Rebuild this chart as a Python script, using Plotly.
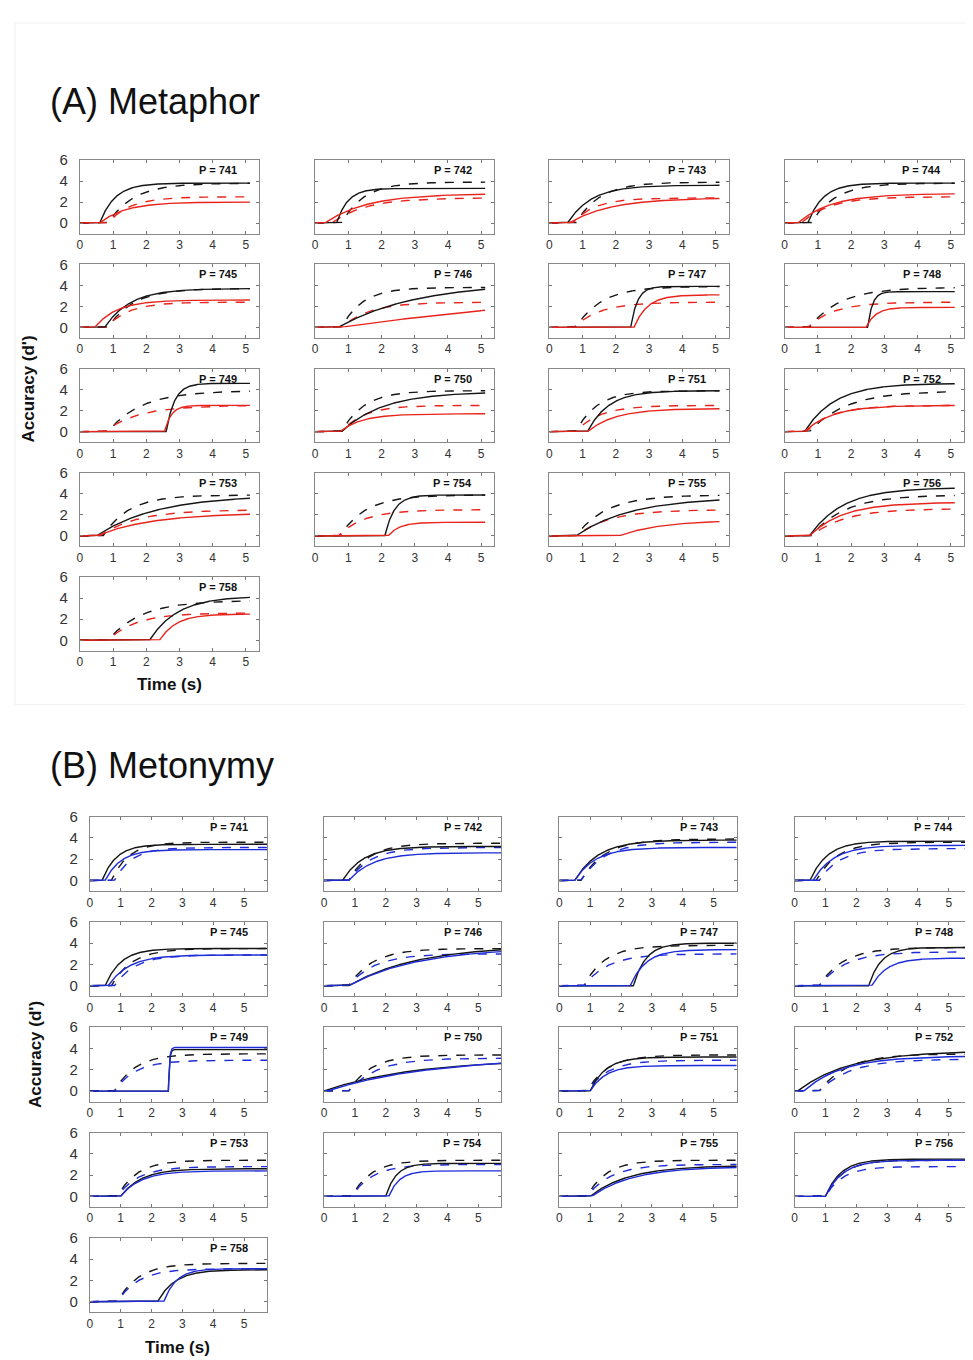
import numpy as np
import plotly.graph_objects as go

# ---------------- data (fitted SAT parameters) ----------------
participants = [741, 742, 743, 744, 745, 746, 747, 748, 749, 750, 751, 752, 753, 754, 755, 756, 758]
x_ticks = [0, 1, 2, 3, 4, 5]
y_ticks = [0, 2, 4, 6]

# Panel A - Metaphor : asymptote (d'), rate (1/s), intercept (s)
A_lit_asym = [3.8, 3.3, 3.6, 3.8, 3.7, 4.3, 3.9, 3.4, 4.6, 3.8, 3.9, 4.6, 3.9, 3.9, 3.7, 4.6, 4.2]
A_lit_rate = [2.2, 3.0, 1.4, 2.2, 1.3, 0.42, 5.0, 7.0, 4.0, 0.8, 1.6, 1.1, 0.55, 3.5, 0.6, 1.0, 1.2]
A_lit_int = [0.6, 0.65, 0.55, 0.7, 0.75, 0.7, 2.45, 2.5, 2.6, 0.8, 1.15, 0.6, 0.5, 2.1, 0.8, 0.75, 2.1]

A_litd_asym = [3.8, 3.9, 3.9, 3.8, 3.7, 3.8, 3.9, 3.8, 3.9, 3.9, 3.9, 3.9, 3.9, 3.9, 3.9, 3.9, 3.8]
A_litd_rate = [1.3, 1.5, 1.4, 1.4, 1.3, 1.6, 1.3, 1.1, 1.0, 1.5, 1.6, 0.9, 1.3, 1.3, 1.1, 1.0, 1.0]
A_litd_int = [0.85, 0.8, 0.8, 0.8, 0.85, 0.8, 0.8, 0.75, 0.85, 0.8, 0.8, 0.75, 0.7, 0.75, 0.8, 0.8, 0.85]

A_fig_asym = [2.0, 2.8, 2.4, 2.8, 2.6, 5.0, 3.1, 1.9, 2.5, 1.7, 2.2, 2.5, 2.2, 1.3, 1.5, 3.2, 2.5]
A_fig_rate = [1.3, 0.8, 0.8, 1.0, 1.5, 0.09, 2.5, 3.5, 5.0, 1.5, 1.2, 1.2, 0.6, 3.0, 0.8, 1.0, 2.0]
A_fig_int = [0.6, 0.3, 0.6, 0.4, 0.45, 0.75, 2.55, 2.45, 2.55, 0.75, 1.15, 0.6, 0.5, 2.2, 2.1, 0.75, 2.4]

A_figd_asym = [2.5, 2.4, 2.4, 2.5, 2.4, 2.4, 2.4, 2.4, 2.5, 2.5, 2.5, 2.5, 2.5, 2.5, 2.5, 2.6, 2.6]
A_figd_rate = [1.5, 1.0, 1.5, 1.2, 1.5, 1.2, 1.3, 1.3, 1.0, 1.5, 1.4, 1.3, 0.9, 1.3, 1.0, 1.0, 1.2]
A_figd_int = [0.85, 0.5, 0.7, 0.5, 0.8, 0.8, 0.75, 0.7, 0.75, 0.8, 0.8, 0.65, 0.6, 0.7, 0.8, 0.8, 0.85]

# Panel B - Metonymy
B_lit_asym = [3.4, 3.2, 3.8, 3.7, 3.5, 3.8, 4.0, 3.6, 3.9, 3.0, 3.2, 3.8, 2.6, 3.1, 2.9, 3.5, 3.0]
B_lit_rate = [2.2, 1.5, 1.3, 1.8, 2.0, 0.45, 2.5, 2.5, 30.0, 0.35, 2.0, 0.6, 1.5, 3.0, 0.8, 2.0, 1.8]
B_lit_int = [0.4, 0.6, 0.5, 0.5, 0.5, 0.8, 2.4, 2.4, 2.55, 0.0, 1.0, 0.1, 1.0, 2.0, 1.0, 1.0, 2.2]

B_litd_asym = [3.6, 3.5, 3.9, 3.6, 3.5, 3.5, 3.8, 3.6, 3.5, 3.4, 3.4, 3.5, 3.4, 3.4, 3.4, 3.4, 3.6]
B_litd_rate = [1.8, 1.5, 1.3, 1.5, 1.5, 1.3, 1.5, 1.3, 1.5, 1.4, 1.5, 1.1, 1.6, 1.6, 1.6, 1.8, 1.5]
B_litd_int = [0.7, 0.8, 0.7, 0.7, 0.7, 0.8, 0.8, 0.8, 0.8, 0.8, 0.9, 0.8, 0.9, 0.9, 0.9, 1.0, 0.9]

B_fig_asym = [2.9, 2.6, 3.1, 3.3, 2.9, 3.6, 3.4, 2.6, 4.1, 3.2, 2.4, 3.3, 2.4, 2.4, 2.8, 3.4, 3.1]
B_fig_rate = [2.0, 1.3, 1.5, 1.5, 1.5, 0.45, 2.0, 2.0, 30.0, 0.3, 2.0, 0.8, 1.5, 3.0, 0.75, 1.8, 2.5]
B_fig_int = [0.5, 0.8, 0.5, 0.6, 0.6, 0.8, 2.3, 2.5, 2.55, 0.1, 1.0, 0.3, 1.0, 2.1, 1.05, 1.0, 2.4]

B_figd_asym = [3.1, 3.1, 3.6, 3.0, 2.9, 3.0, 3.0, 3.2, 2.9, 3.1, 2.9, 3.0, 2.8, 3.0, 3.0, 2.8, 3.1]
B_figd_rate = [1.8, 1.4, 1.3, 1.5, 1.5, 1.2, 1.3, 1.2, 1.5, 1.1, 1.5, 1.0, 1.5, 1.5, 1.3, 1.8, 1.5]
B_figd_int = [0.8, 0.8, 0.7, 0.8, 0.8, 0.8, 0.8, 0.8, 0.8, 0.8, 0.9, 0.8, 0.9, 0.9, 0.9, 1.0, 0.9]


def sat(t, lam, beta, delta):
    return np.where(t > delta, lam * (1 - np.exp(-beta * (t - delta))), 0.0)


OFF = 8  # default page margin of the html body (left/top)
W, H = 973 - OFF, 1360 - OFF


def px(xp):
    return (xp - OFF) / W


def py(yp):
    return 1 - (yp - OFF) / H


BLACK = "#151515"
FONT = "Liberation Sans, Arial, sans-serif"

panels = [
    dict(title="(A) Metaphor", title_y=93, cols=[77, 313, 548, 784], rows=[152, 257, 362, 467, 572],
         w=180, h=74, xmax=5.4, tend=5.12, color="#e8231b", plabel_x=4.78,
         ylab=(26, 382), xlab=(167, 680),
         curves=[(A_litd_asym, A_litd_rate, A_litd_int, BLACK, "dash"),
                 (A_figd_asym, A_figd_rate, A_figd_int, "red", "dash"),
                 (A_lit_asym, A_lit_rate, A_lit_int, BLACK, "solid"),
                 (A_fig_asym, A_fig_rate, A_fig_int, "red", "solid")]),
    dict(title="(B) Metonymy", title_y=762, cols=[87, 322, 558, 794], rows=[813, 919, 1025, 1131, 1237],
         w=178, h=75, xmax=5.75, tend=5.75, color="#1d2bd8", plabel_x=5.2,
         ylab=(32, 1052), xlab=(175, 1347),
         curves=[(B_litd_asym, B_litd_rate, B_litd_int, BLACK, "dash"),
                 (B_figd_asym, B_figd_rate, B_figd_int, "blue", "dash"),
                 (B_lit_asym, B_lit_rate, B_lit_int, BLACK, "solid"),
                 (B_fig_asym, B_fig_rate, B_fig_int, "blue", "solid")]),
]

fig = go.Figure()
layout = dict(width=W, height=H, autosize=False, margin=dict(l=0, r=0, t=0, b=0),
              paper_bgcolor="white", plot_bgcolor="white", showlegend=False)
annotations = []
k = 0
right_edge = OFF + W
for p in panels:
    t = np.linspace(0, p["tend"], 500)
    for i, pid in enumerate(participants):
        k += 1
        r, c = divmod(i, 4)
        x0 = p["cols"][c]
        y0 = p["rows"][r]
        x1 = x0 + p["w"]
        xmax = p["xmax"]
        if x1 > right_edge:  # clipped at page edge, keep the same scale
            xmax = p["xmax"] * (right_edge - x0) / p["w"]
            x1 = right_edge
        xn = "x" if k == 1 else f"x{k}"
        yn = "y" if k == 1 else f"y{k}"
        for asym, rate, icp, col, dash in p["curves"]:
            colr = p["color"] if col in ("red", "blue") else col
            fig.add_trace(go.Scatter(x=t, y=sat(t, asym[i], rate[i], icp[i]), mode="lines",
                                     line=dict(color=colr, width=1.4, dash=dash),
                                     xaxis=xn, yaxis=yn, hoverinfo="skip", cliponaxis=True))
        axx = dict(domain=[px(x0), min(1.0, px(x1))], anchor=yn, range=[0, xmax],
                   tickvals=x_ticks, ticks="inside", ticklen=3, tickcolor="#777",
                   showline=True, linecolor="#888", linewidth=1, mirror="allticks",
                   showgrid=False, zeroline=False,
                   tickfont=dict(family=FONT, size=12, color="#333"))
        axy = dict(domain=[py(y0 + p["h"]), py(y0)], anchor=xn, range=[-1, 6],
                   tickvals=y_ticks, ticks="inside", ticklen=3, tickcolor="#777",
                   showline=True, linecolor="#888", linewidth=1, mirror="allticks",
                   showgrid=False, zeroline=False, showticklabels=(c == 0),
                   ticklabelstandoff=8,
                   tickfont=dict(family=FONT, size=15, color="#333"))
        layout["xaxis" if k == 1 else f"xaxis{k}"] = axx
        layout["yaxis" if k == 1 else f"yaxis{k}"] = axy
        annotations.append(dict(x=p["plabel_x"], y=5.05, xref=xn, yref=yn, text=f"<b>P = {pid}</b>",
                                showarrow=False, xanchor="right", yanchor="middle",
                                font=dict(family=FONT, size=11, color="#111")))
    annotations.append(dict(x=px(45), y=py(p["title_y"]), xref="paper", yref="paper",
                            text=p["title"], showarrow=False, xanchor="left", yanchor="middle",
                            font=dict(family=FONT, size=36, color="#111")))
    annotations.append(dict(x=px(p["ylab"][0]), y=py(p["ylab"][1]), xref="paper", yref="paper",
                            text="<b>Accuracy (d')</b>", textangle=-90, showarrow=False,
                            xanchor="center", yanchor="middle",
                            font=dict(family=FONT, size=17, color="#111")))
    annotations.append(dict(x=px(p["xlab"][0]), y=py(p["xlab"][1]), xref="paper", yref="paper",
                            text="<b>Time (s)</b>", showarrow=False,
                            xanchor="center", yanchor="middle",
                            font=dict(family=FONT, size=17, color="#111")))

layout["annotations"] = annotations
layout["shapes"] = [dict(type="rect", xref="paper", yref="paper", x0=px(12), x1=1.0,
                         y0=py(700), y1=py(14), line=dict(color="#f0f0f0", width=1))]
fig.update_layout(**layout)
fig.write_html("out.html")
